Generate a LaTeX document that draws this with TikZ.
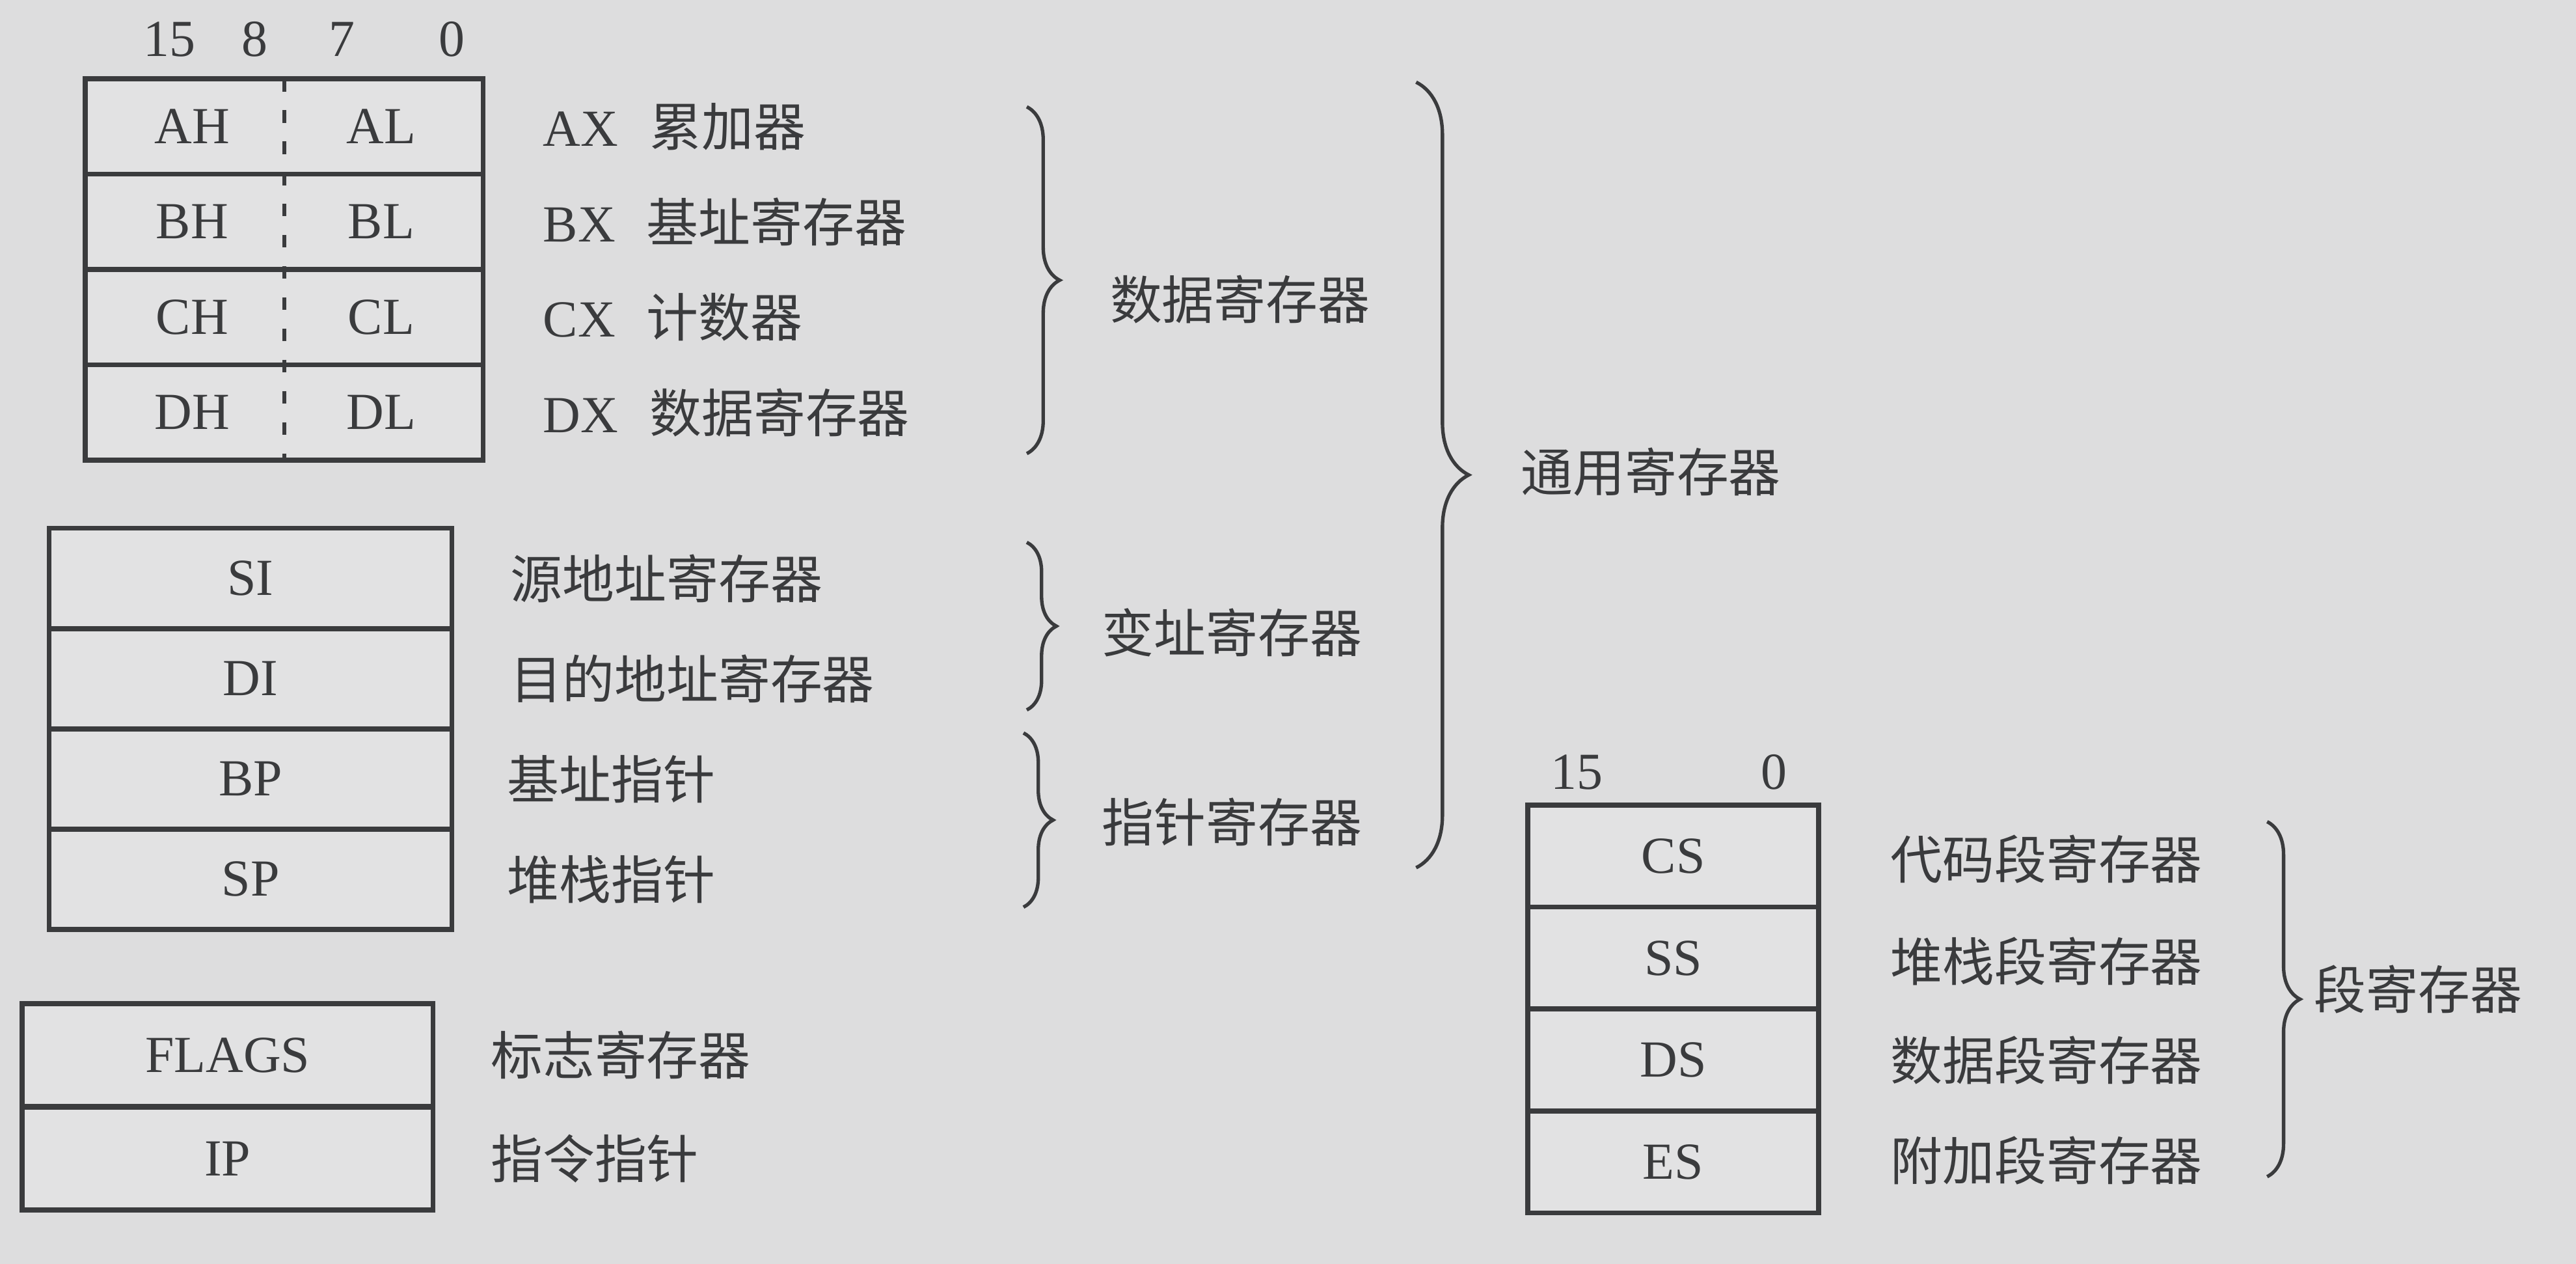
\documentclass[tikz,border=0pt]{standalone}
\usepackage{fontspec}
\setmainfont{Liberation Serif}
\newfontfamily\cjk{Noto Sans CJK SC}
\usetikzlibrary{decorations.pathreplacing}
\definecolor{paperFill}{HTML}{DDDDDE}
\definecolor{cellFill}{HTML}{E2E2E3}
\definecolor{inkStroke}{HTML}{3A3B3D}

\begin{document}
\begin{tikzpicture}[
  x=0.01cm, y=-0.01cm,
  font=\fontsize{9}{11}\selectfont, text=inkStroke,
  regcell/.style={rectangle,draw=inkStroke,fill=cellFill,line width=.85pt,inner sep=0pt,outer sep=0pt},
  datacell/.style={regcell,minimum width=2.42cm,minimum height=.58cm},
  ptrcell/.style={regcell,minimum width=2.45cm,minimum height=.61cm},
  ctlcell/.style={regcell,minimum width=2.50cm,minimum height=.625cm},
  segcell/.style={regcell,minimum width=1.77cm,minimum height=.62cm},
  divider/.style={draw=inkStroke,line width=.7pt,dash pattern=on 2.2pt off 3.2pt},
  regname/.style={anchor=west,inner sep=0pt,font=\fontsize{9}{11}\selectfont\cjk},
  bits/.style={inner sep=0pt},
  group/.style={draw=inkStroke,line width=.6pt,decorate,decoration={brace,amplitude=#1}},
  grouplabel/.style={anchor=west,inner sep=0pt,font=\fontsize{9}{11}\selectfont\cjk}
]
\useasboundingbox (0,0) rectangle (1568,769);
\fill[paperFill] (0,0) rectangle (1568,769);

% data registers: 16 bits, high and low byte apart
\node[bits] (b15) at (103,24) {15};
\node[bits] (b8) at (155,24) {8};
\node[bits] (b7) at (208,24) {7};
\node[bits] (b0) at (275,24) {0};
\node[datacell] (ax) at (173,77) {};
\node[datacell] (bx) at (173,135) {};
\node[datacell] (cx) at (173,193) {};
\node[datacell] (dx) at (173,251) {};
\draw[divider] (ax.north) -- (dx.south);
\node (ah) at (117,77) {AH};
\node (al) at (232,77) {AL};
\node (bh) at (117,135) {BH};
\node (bl) at (232,135) {BL};
\node (ch) at (117,193) {CH};
\node (cl) at (232,193) {CL};
\node (dh) at (117,251) {DH};
\node (dl) at (232,251) {DL};
\node[regname] (axname) at (330,77) {{\rmfamily AX}\hspace{.6em}累加器};
\node[regname] (bxname) at (330,135) {{\rmfamily BX}\hspace{.6em}基址寄存器};
\node[regname] (cxname) at (330,193) {{\rmfamily CX}\hspace{.6em}计数器};
\node[regname] (dxname) at (330,251) {{\rmfamily DX}\hspace{.6em}数据寄存器};

% index and pointer registers
\node[ptrcell] (si) at (152.5,352) {SI};
\node[ptrcell] (di) at (152.5,413) {DI};
\node[ptrcell] (bp) at (152.5,474) {BP};
\node[ptrcell] (sp) at (152.5,535) {SP};
\node[regname] (siname) at (310,352) {源地址寄存器};
\node[regname] (diname) at (310,413) {目的地址寄存器};
\node[regname] (bpname) at (308,474) {基址指针};
\node[regname] (spname) at (308,535) {堆栈指针};

% control registers
\node[ctlcell] (flags) at (138.5,642) {FLAGS};
\node[ctlcell] (ip) at (138.5,705) {IP};
\node[regname] (flagsname) at (298,642) {标志寄存器};
\node[regname] (ipname) at (298,705) {指令指针};

% group braces of the general registers
\coordinate (dataTop) at (625,65);
\coordinate (dataBot) at (625,276);
\coordinate (idxTop) at (625,330);
\coordinate (idxBot) at (625,432);
\coordinate (ptrTop) at (623,446);
\coordinate (ptrBot) at (623,552);
\coordinate (genTop) at (862,50);
\coordinate (genBot) at (862,528);
\draw[group=.2cm] (dataTop) -- (dataBot);
\draw[group=.18cm] (idxTop) -- (idxBot);
\draw[group=.18cm] (ptrTop) -- (ptrBot);
\draw[group=.32cm] (genTop) -- (genBot);
\node[grouplabel] (datagroup) at (675,182) {数据寄存器};
\node[grouplabel] (idxgroup) at (670,385) {变址寄存器};
\node[grouplabel] (ptrgroup) at (670,500) {指针寄存器};
\node[grouplabel] (gengroup) at (925,287) {通用寄存器};

% segment registers
\node[bits] (s15) at (960,470) {15};
\node[bits] (s0) at (1080,470) {0};
\node[segcell] (cs) at (1018.5,521) {CS};
\node[segcell] (ss) at (1018.5,583) {SS};
\node[segcell] (ds) at (1018.5,645) {DS};
\node[segcell] (es) at (1018.5,707) {ES};
\node[regname] (csname) at (1150,523) {代码段寄存器};
\node[regname] (ssname) at (1150,585) {堆栈段寄存器};
\node[regname] (dsname) at (1150,645) {数据段寄存器};
\node[regname] (esname) at (1150,706) {附加段寄存器};
\coordinate (segTop) at (1380,500);
\coordinate (segBot) at (1380,716);
\draw[group=.2cm] (segTop) -- (segBot);
\node[grouplabel] (seggroup) at (1408,602) {段寄存器};
\end{tikzpicture}
\end{document}
